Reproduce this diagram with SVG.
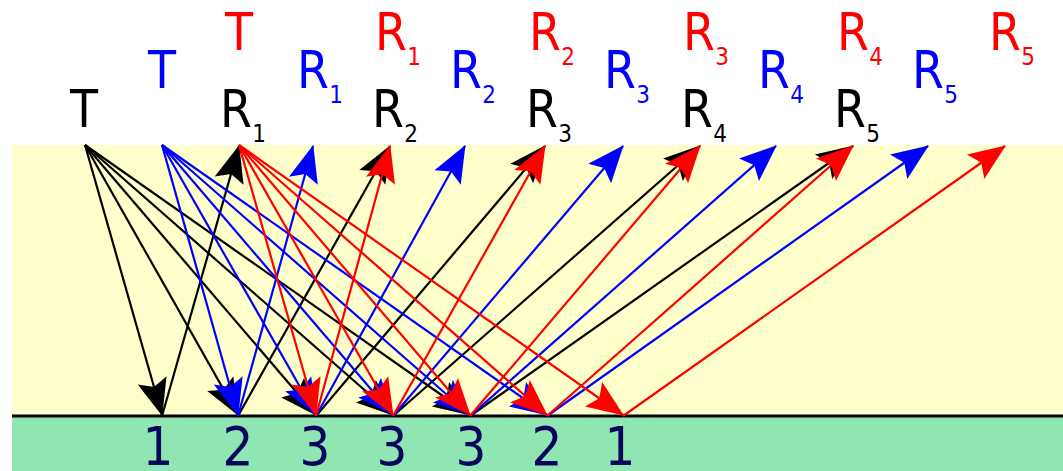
<svg xmlns="http://www.w3.org/2000/svg" width="1063" height="471" viewBox="0 0 1063 471">
<style>
.lbl{font-family:"DejaVu Sans Condensed","DejaVu Sans",sans-serif;font-size:51px;text-anchor:middle}
.sub{font-family:"DejaVu Sans Condensed","DejaVu Sans",sans-serif;font-size:24px;text-anchor:middle}
.num{font-family:"DejaVu Sans Condensed","DejaVu Sans",sans-serif;font-size:54px;text-anchor:middle;fill:#06065c}
.k{fill:#000}.b{fill:#0000ff}.r{fill:#ff0000}
.ck line{stroke:#000;stroke-width:2.2;marker-end:url(#mk)}
.cb line{stroke:#0000ff;stroke-width:2.2;marker-end:url(#mb)}
.cr line{stroke:#ff0000;stroke-width:2.2;marker-end:url(#mr)}
</style>
<defs>
<marker id="mk" viewBox="-38 -17 40 34" refX="0" refY="0" markerWidth="40" markerHeight="34" markerUnits="userSpaceOnUse" orient="auto"><path d="M1,0 L-36,-15 L-29,0 L-36,15 Z" fill="#000"/></marker>
<marker id="mb" viewBox="-38 -17 40 34" refX="0" refY="0" markerWidth="40" markerHeight="34" markerUnits="userSpaceOnUse" orient="auto"><path d="M1,0 L-36,-15 L-29,0 L-36,15 Z" fill="#0000ff"/></marker>
<marker id="mr" viewBox="-38 -17 40 34" refX="0" refY="0" markerWidth="40" markerHeight="34" markerUnits="userSpaceOnUse" orient="auto"><path d="M1,0 L-36,-15 L-29,0 L-36,15 Z" fill="#ff0000"/></marker>
</defs>
<rect x="0" y="0" width="1063" height="471" fill="#fff"/>
<rect x="12" y="145" width="1051" height="271" fill="#ffffcc"/>
<rect x="12" y="416" width="1051" height="55" fill="#8fe6b3"/>
<line x1="12" y1="416" x2="1063" y2="416" stroke="#000" stroke-width="3"/>

<g id="connectors">
<g class="ck">
<line x1="85" y1="145" x2="162" y2="415"/>
<line x1="85" y1="145" x2="238" y2="415"/>
<line x1="85" y1="145" x2="316" y2="415"/>
<line x1="85" y1="145" x2="393" y2="415"/>
<line x1="85" y1="145" x2="470" y2="415"/>
<line x1="162" y1="416" x2="239" y2="146"/>
<line x1="238" y1="416" x2="390" y2="146"/>
<line x1="316" y1="416" x2="545" y2="146"/>
<line x1="393" y1="416" x2="700" y2="146"/>
<line x1="470" y1="416" x2="853" y2="146"/>
</g>
<g class="cb">
<line x1="162" y1="145" x2="238" y2="415"/>
<line x1="162" y1="145" x2="316" y2="415"/>
<line x1="162" y1="145" x2="393" y2="415"/>
<line x1="162" y1="145" x2="470" y2="415"/>
<line x1="162" y1="145" x2="547" y2="415"/>
<line x1="238" y1="416" x2="313" y2="146"/>
<line x1="316" y1="416" x2="465" y2="146"/>
<line x1="393" y1="416" x2="623" y2="146"/>
<line x1="470" y1="416" x2="776" y2="146"/>
<line x1="547" y1="416" x2="928" y2="146"/>
</g>
<g class="cr">
<line x1="239" y1="145" x2="316" y2="415"/>
<line x1="239" y1="145" x2="393" y2="415"/>
<line x1="239" y1="145" x2="470" y2="415"/>
<line x1="239" y1="145" x2="547" y2="415"/>
<line x1="239" y1="145" x2="623" y2="415"/>
<line x1="316" y1="416" x2="390" y2="146"/>
<line x1="393" y1="416" x2="545" y2="146"/>
<line x1="470" y1="416" x2="700" y2="146"/>
<line x1="547" y1="416" x2="853" y2="146"/>
<line x1="623" y1="416" x2="1005" y2="146"/>
</g>
</g>

<g id="black-T"><text class="lbl k" x="84" y="127">T</text></g>
<g id="black-R1"><text class="lbl k" x="236" y="127">R</text><text class="sub k" x="259" y="142">1</text></g>
<g id="black-R2"><text class="lbl k" x="388" y="127">R</text><text class="sub k" x="411" y="142">2</text></g>
<g id="black-R3"><text class="lbl k" x="542" y="127">R</text><text class="sub k" x="565" y="142">3</text></g>
<g id="black-R4"><text class="lbl k" x="697" y="127">R</text><text class="sub k" x="720" y="142">4</text></g>
<g id="black-R5"><text class="lbl k" x="850" y="127">R</text><text class="sub k" x="873" y="142">5</text></g>

<g id="blue-T"><text class="lbl b" x="162" y="88">T</text></g>
<g id="blue-R1"><text class="lbl b" x="313" y="88">R</text><text class="sub b" x="336" y="103">1</text></g>
<g id="blue-R2"><text class="lbl b" x="466" y="88">R</text><text class="sub b" x="489" y="103">2</text></g>
<g id="blue-R3"><text class="lbl b" x="620" y="88">R</text><text class="sub b" x="643" y="103">3</text></g>
<g id="blue-R4"><text class="lbl b" x="774" y="88">R</text><text class="sub b" x="797" y="103">4</text></g>
<g id="blue-R5"><text class="lbl b" x="928" y="88">R</text><text class="sub b" x="951" y="103">5</text></g>

<g id="red-T"><text class="lbl r" x="239" y="50">T</text></g>
<g id="red-R1"><text class="lbl r" x="391" y="50">R</text><text class="sub r" x="414" y="65">1</text></g>
<g id="red-R2"><text class="lbl r" x="545" y="50">R</text><text class="sub r" x="568" y="65">2</text></g>
<g id="red-R3"><text class="lbl r" x="699" y="50">R</text><text class="sub r" x="722" y="65">3</text></g>
<g id="red-R4"><text class="lbl r" x="853" y="50">R</text><text class="sub r" x="876" y="65">4</text></g>
<g id="red-R5"><text class="lbl r" x="1005" y="50">R</text><text class="sub r" x="1028" y="65">5</text></g>

<g id="count-1a"><text class="num" x="158" y="465">1</text></g>
<g id="count-2a"><text class="num" x="238" y="465">2</text></g>
<g id="count-3a"><text class="num" x="315" y="465">3</text></g>
<g id="count-3b"><text class="num" x="392" y="465">3</text></g>
<g id="count-3c"><text class="num" x="471" y="465">3</text></g>
<g id="count-2b"><text class="num" x="547" y="465">2</text></g>
<g id="count-1b"><text class="num" x="620" y="465">1</text></g>
</svg>
